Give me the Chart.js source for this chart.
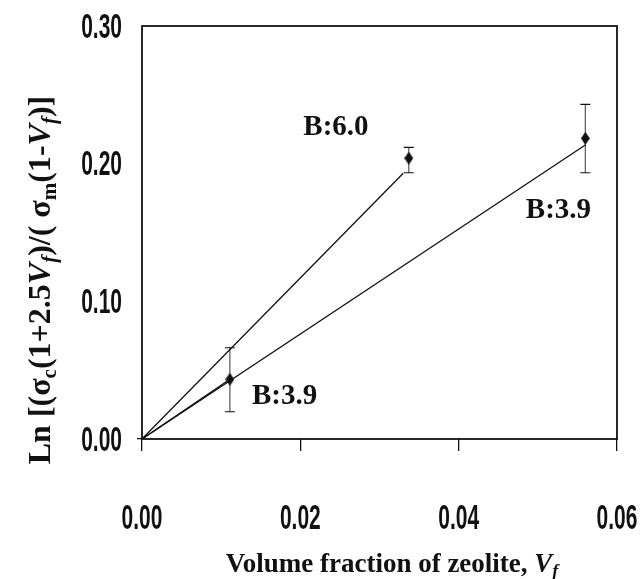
<!DOCTYPE html>
<html>
<head>
<meta charset="utf-8">
<script src="https://cdn.jsdelivr.net/npm/chart.js@4/dist/chart.umd.min.js"></script>
<style>
  html, body { margin: 0; padding: 0; background: #fff; }
  #wrap { width: 642px; height: 579px; }
</style>
</head>
<body>
<div id="wrap"><canvas id="chart" width="642" height="579"></canvas></div>
<script>
// values
const xTicks = [0, 0.02, 0.04, 0.06];
const yTicks = [0, 0.1, 0.2, 0.3];

// measured points (diamonds) with their error bars
const pointX = [0.0111, 0.0337, 0.0560];
const pointY = [0.0434, 0.2040, 0.2184];
const errLow = [0.0198, 0.1934, 0.1934];
const errHigh = [0.0663, 0.2119, 0.2431];

// fit lines through the origin
const fitB60X = [0, 0.0330];
const fitB60Y = [0, 0.1930];
const fitB39X = [0, 0.0560];
const fitB39Y = [0, 0.2136];
const fitB39shortX = [0, 0.0111];
const fitB39shortY = [0, 0.0434];

// in-plot labels
const noteText = ['B:6.0', 'B:3.9', 'B:3.9'];
const noteX = [0.0245, 0.0526, 0.0180];
const noteY = [0.226, 0.166, 0.0305];

const toPts = (xs, ys) => xs.map((x, i) => ({ x: x, y: ys[i] }));

// elongated diamond marker
const diamond = document.createElement('canvas');
diamond.width = 9; diamond.height = 13;
const dc = diamond.getContext('2d');
dc.fillStyle = '#111';
dc.beginPath();
dc.moveTo(4.5, 0); dc.lineTo(9, 6.5); dc.lineTo(4.5, 13); dc.lineTo(0, 6.5);
dc.closePath();
dc.fill();

const SERIF = '"Liberation Serif", "Times New Roman", serif';

function drawRich(ctx, parts, cx, baseY) {
  let w = 0;
  parts.forEach(p => { ctx.font = p.f; w += ctx.measureText(p.t).width; });
  let x = cx - w / 2;
  ctx.textAlign = 'left';
  ctx.textBaseline = 'alphabetic';
  parts.forEach(p => {
    ctx.font = p.f;
    ctx.fillText(p.t, x, baseY + (p.dy || 0));
    x += ctx.measureText(p.t).width;
  });
}

const decor = {
  id: 'decor',
  beforeDatasetsDraw(chart) {
    const ctx = chart.ctx, xs = chart.scales.x, ys = chart.scales.y;
    ctx.save();
    ctx.lineWidth = 1.2;
    pointX.forEach((v, i) => {
      const px = xs.getPixelForValue(v);
      const lo = ys.getPixelForValue(errLow[i]);
      const hi = ys.getPixelForValue(errHigh[i]);
      ctx.strokeStyle = '#555';
      ctx.beginPath();
      ctx.moveTo(px, lo); ctx.lineTo(px, hi);
      ctx.stroke();
      ctx.strokeStyle = '#111';
      ctx.beginPath();
      ctx.moveTo(px - 5, lo); ctx.lineTo(px + 5, lo);
      ctx.moveTo(px - 5, hi); ctx.lineTo(px + 5, hi);
      ctx.stroke();
    });
    ctx.restore();
  },
  afterDraw(chart) {
    const ctx = chart.ctx, xs = chart.scales.x, ys = chart.scales.y, a = chart.chartArea;
    ctx.save();
    // frame
    ctx.strokeStyle = '#111';
    ctx.lineWidth = 1.8;
    ctx.strokeRect(a.left, a.top, a.right - a.left, a.bottom - a.top);

    // condensed tick labels
    ctx.fillStyle = '#111';
    ctx.font = 'bold 35px "Liberation Sans", Arial, sans-serif';
    ctx.textBaseline = 'middle';
    xs.ticks.forEach(t => {
      ctx.save();
      ctx.translate(xs.getPixelForValue(t.value), 519);
      ctx.scale(0.6, 1);
      ctx.textAlign = 'center';
      ctx.fillText(t.value.toFixed(2), 0, 0);
      ctx.restore();
    });
    ys.ticks.forEach(t => {
      ctx.save();
      ctx.translate(122, ys.getPixelForValue(t.value) + 2);
      ctx.scale(0.6, 1);
      ctx.textAlign = 'right';
      ctx.fillText(t.value.toFixed(2), 0, 0);
      ctx.restore();
    });

    // notes
    ctx.font = 'bold 29px ' + SERIF;
    ctx.textAlign = 'center';
    ctx.textBaseline = 'middle';
    noteText.forEach((s, i) => {
      ctx.fillText(s, xs.getPixelForValue(noteX[i]), ys.getPixelForValue(noteY[i]));
    });

    const B = 'bold 27px ' + SERIF;
    const BI = 'italic bold 27px ' + SERIF;
    const ISUB = 'italic bold 18px ' + SERIF;

    // x title
    drawRich(ctx, [
      { t: 'Volume fraction of zeolite, ', f: B },
      { t: 'V', f: BI },
      { t: 'f', f: ISUB, dy: 5 }
    ], 392, 572);

    // y title
    ctx.translate(50, 280);
    ctx.rotate(-Math.PI / 2);
    const yB = 'bold 32px ' + SERIF;
    const yBI = 'italic bold 32px ' + SERIF;
    const ySUB = 'bold 21px ' + SERIF;
    const yISUB = 'italic bold 21px ' + SERIF;
    drawRich(ctx, [
      { t: 'Ln [(σ', f: yB },
      { t: 'c', f: ySUB, dy: 6 },
      { t: '(1+2.5', f: yB },
      { t: 'V', f: yBI },
      { t: 'f', f: yISUB, dy: 6 },
      { t: ')/( σ', f: yB },
      { t: 'm', f: ySUB, dy: 6 },
      { t: '(1-', f: yB },
      { t: 'V', f: yBI },
      { t: 'f', f: yISUB, dy: 6 },
      { t: ')]', f: yB }
    ], 0, 0);
    ctx.restore();
  }
};

const lineStyle = {
  showLine: true,
  borderColor: '#111',
  borderWidth: 1.3,
  pointRadius: 0,
  fill: false,
  tension: 0
};

new Chart(document.getElementById('chart'), {
  type: 'scatter',
  data: {
    datasets: [
      Object.assign({ label: 'B:6.0 fit', data: toPts(fitB60X, fitB60Y) }, lineStyle),
      Object.assign({ label: 'B:3.9 fit', data: toPts(fitB39X, fitB39Y) }, lineStyle),
      Object.assign({ label: 'B:3.9 fit short', data: toPts(fitB39shortX, fitB39shortY) }, lineStyle),
      {
        label: 'measured',
        data: toPts(pointX, pointY),
        showLine: false,
        pointStyle: diamond,
        pointRadius: 5
      }
    ]
  },
  options: {
    responsive: false,
    devicePixelRatio: 1,
    animation: false,
    layout: { padding: { top: 26, right: 25, left: 0, bottom: 0 } },
    plugins: {
      legend: { display: false },
      tooltip: { enabled: false }
    },
    scales: {
      x: {
        type: 'linear',
        min: 0,
        max: 0.06,
        afterBuildTicks: s => { s.ticks = xTicks.map(v => ({ value: v })); },
        afterFit: s => { s.height = 140; },
        ticks: { display: false },
        border: { display: false },
        grid: { drawOnChartArea: false, drawTicks: true, tickLength: 12, color: '#111', lineWidth: 1.3 }
      },
      y: {
        type: 'linear',
        min: 0,
        max: 0.3,
        afterBuildTicks: s => { s.ticks = yTicks.map(v => ({ value: v })); },
        afterFit: s => { s.width = 142; },
        ticks: { display: false },
        border: { display: false },
        grid: {
          drawOnChartArea: false,
          drawTicks: true,
          tickLength: 5,
          lineWidth: 1.3,
          color: c => (c.tick && c.tick.value === 0 ? '#111' : 'rgba(0,0,0,0)')
        }
      }
    }
  },
  plugins: [decor]
});
</script>
</body>
</html>
